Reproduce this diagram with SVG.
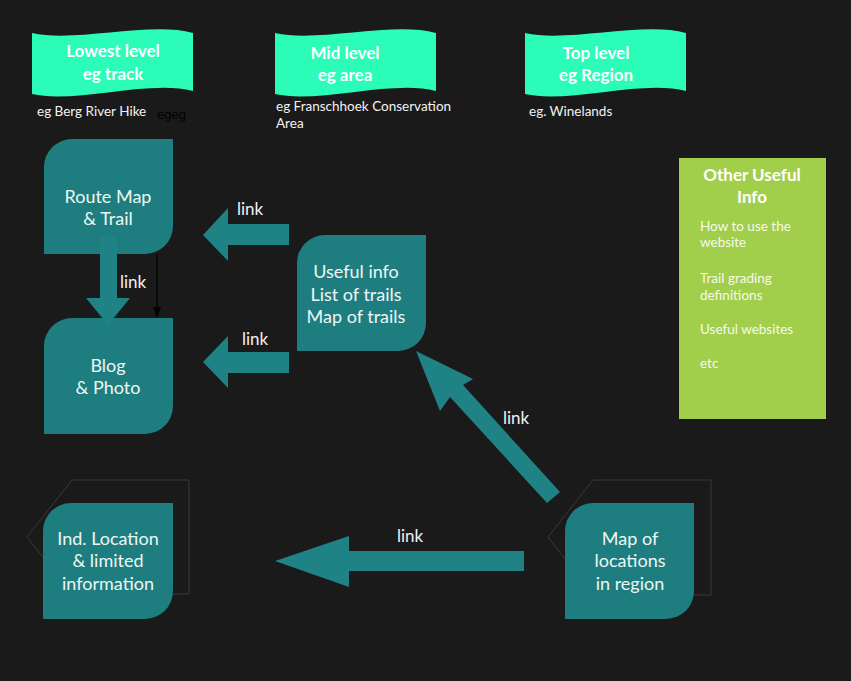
<svg xmlns="http://www.w3.org/2000/svg" width="851" height="681" viewBox="0 0 851 681">
<defs>
<style>
.bg{fill:#1b1a1b}
.banner{fill:#2bfcb7}
.bt{font-family:Lato,"Open Sans",sans-serif;font-weight:bold;font-size:17px;fill:#ffffff;text-anchor:middle}
.sub{font-family:Lato,"Open Sans",sans-serif;font-size:13.5px;fill:#f2f2f2}
.node{fill:#1e7e7f}
.nt{font-family:Lato,"Open Sans",sans-serif;font-size:18px;fill:#eef6f6;text-anchor:middle}
.arrow{fill:#1f8385}
.lbl{font-family:Lato,"Open Sans",sans-serif;font-size:17px;fill:#f2f2f2}
.pent{fill:none;stroke:#3b3838;stroke-width:1}
.other{fill:#a1cf4b}
.ot{font-family:Lato,"Open Sans",sans-serif;font-weight:bold;font-size:17px;fill:#ffffff;text-anchor:middle}
.ob{font-family:Lato,"Open Sans",sans-serif;font-size:13.5px;fill:#f6f9ee}
</style>
<marker id="blk" markerWidth="10" markerHeight="8" refX="10" refY="4" orient="auto" markerUnits="userSpaceOnUse" viewBox="0 0 10 8">
<path d="M0,0 L10,4 L0,8 Z" fill="#000"/>
</marker>
</defs>
<rect class="bg" x="0" y="0" width="851" height="681"/>

<g id="banner-lowest">
<path class="banner" d="M32,33 C75,43 150,21 193,33 L193,91 C150,79 75,104 32,94 Z"/>
<text class="bt" x="113" y="57">Lowest level</text>
<text class="bt" x="113" y="80">eg track</text>
<text class="sub" x="37" y="116">eg Berg River Hike</text>
<text x="157" y="119" font-family="Liberation Sans, Arial, sans-serif" font-size="13" fill="#000">egeg</text>
</g>

<g id="banner-mid">
<path class="banner" d="M275,33 C318,43 393,21 436,33 L436,91 C393,79 318,104 275,94 Z"/>
<text class="bt" x="345" y="59">Mid level</text>
<text class="bt" x="345" y="81">eg area</text>
<text class="sub" x="276" y="111">eg Franschhoek Conservation</text>
<text class="sub" x="276" y="128">Area</text>
</g>

<g id="banner-top">
<path class="banner" d="M525,33 C568,43 643,21 686,33 L686,91 C643,79 568,104 525,94 Z"/>
<text class="bt" x="596" y="59">Top level</text>
<text class="bt" x="596" y="81">eg Region</text>
<text class="sub" x="529" y="116">eg. Winelands</text>
</g>

<g id="other-info">
<rect class="other" x="679" y="158" width="147" height="261"/>
<text class="ot" x="752" y="181">Other Useful</text>
<text class="ot" x="752" y="203">Info</text>
<text class="ob" x="700" y="231">How to use the</text>
<text class="ob" x="700" y="247">website</text>
<text class="ob" x="700" y="283">Trail grading</text>
<text class="ob" x="700" y="300">definitions</text>
<text class="ob" x="700" y="334">Useful websites</text>
<text class="ob" x="700" y="368">etc</text>
</g>

<g id="node-route">
<path class="node" d="M72,139 L173,139 L173,226 A28,28 0 0 1 145,254 L44,254 L44,167 A28,28 0 0 1 72,139 Z"/>
<text class="nt" x="108" y="203">Route Map</text>
<text class="nt" x="108" y="225">&amp; Trail</text>
</g>

<g id="node-blog">
<path class="node" d="M72,318 L173,318 L173,406 A28,28 0 0 1 145,434 L44,434 L44,346 A28,28 0 0 1 72,318 Z"/>
<text class="nt" x="108" y="372">Blog</text>
<text class="nt" x="108" y="394">&amp; Photo</text>
</g>

<g id="node-useful">
<path class="node" d="M325,235 L426,235 L426,323 A28,28 0 0 1 398,351 L297,351 L297,263 A28,28 0 0 1 325,235 Z"/>
<text class="nt" x="356" y="278">Useful info</text>
<text class="nt" x="356" y="301">List of trails</text>
<text class="nt" x="356" y="323">Map of trails</text>
</g>

<g id="node-ind">
<path class="pent" d="M72,480 L189,480 L189,594 L72,594 L27,537 Z"/>
<path class="node" d="M71,503 L173,503 L173,591 A28,28 0 0 1 145,619 L43,619 L43,531 A28,28 0 0 1 71,503 Z"/>
<text class="nt" x="108" y="545">Ind. Location</text>
<text class="nt" x="108" y="567">&amp; limited</text>
<text class="nt" x="108" y="590">information</text>
</g>

<g id="node-map">
<path class="pent" d="M593,480 L711,480 L711,595 L593,595 L548,537 Z"/>
<path class="node" d="M593,503 L694,503 L694,591 A28,28 0 0 1 666,619 L565,619 L565,531 A28,28 0 0 1 593,503 Z"/>
<text class="nt" x="630" y="545">Map of</text>
<text class="nt" x="630" y="567">locations</text>
<text class="nt" x="630" y="590">in region</text>
</g>

<g id="connectors">
<path class="arrow" d="M100,237 L117,237 L117,298 L130,298 L108,325 L86,298 L100,298 Z"/>
<text class="lbl" x="120" y="288">link</text>
<line x1="157" y1="254" x2="157" y2="317" stroke="#000" stroke-width="1.2" marker-end="url(#blk)"/>

<path class="arrow" d="M289,224 L228,224 L228,208 L203,235 L228,261 L228,245 L289,245 Z"/>
<text class="lbl" x="237" y="215">link</text>

<path class="arrow" d="M289,352 L228,352 L228,336 L203,362 L228,388 L228,373 L289,373 Z"/>
<text class="lbl" x="242" y="345">link</text>

<path class="arrow" d="M560,492 L463,385 L473,379 L416,351 L440,411 L450,397 L547,503 Z"/>
<text class="lbl" x="503" y="424">link</text>

<path class="arrow" d="M524,551 L349,551 L349,536 L275,561 L349,587 L349,571 L524,571 Z"/>
<text class="lbl" x="397" y="542">link</text>
</g>
</svg>
